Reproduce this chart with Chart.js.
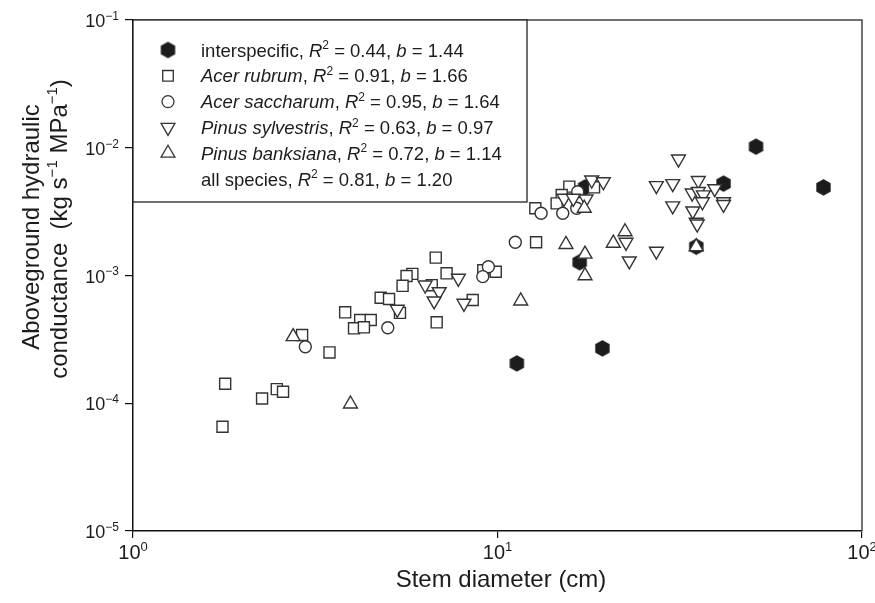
<!DOCTYPE html>
<html>
<head>
<meta charset="utf-8">
<script src="https://cdn.jsdelivr.net/npm/chart.js@4.4.0/dist/chart.umd.min.js"></script>
<style>
  html, body { margin: 0; padding: 0; background: #fff; }
  #wrap { width: 875px; height: 603px; }
</style>
</head>
<body>
<div id="wrap"><canvas id="chart" width="875" height="603"></canvas></div>
<script>
// stem diameter (cm) / aboveground hydraulic conductance (kg s-1 MPa-1)
const interD = [11.3, 19.4, 16.8, 17.4, 35.1, 41.7, 51.2, 78.4];
const interK = [2.05e-4, 2.69e-4, 1.27e-3, 4.90e-3, 1.68e-3, 5.24e-3, 1.02e-2, 4.90e-3];

const rubrumD = [6.77, 5.84, 5.63, 5.49, 7.25, 6.60, 4.78, 5.04, 5.40, 6.81, 3.82, 4.20, 4.49, 4.04, 4.30, 2.91,
  3.46, 1.79, 2.26, 2.48, 2.58, 1.76, 9.14, 9.89, 8.55, 12.76, 12.70, 15.74, 18.40, 15.0, 14.53];
const rubrumK = [1.38e-3, 1.03e-3, 9.9e-4, 8.3e-4, 1.04e-3, 8.4e-4, 6.7e-4, 6.55e-4, 5.1e-4, 4.3e-4, 5.15e-4, 4.48e-4,
  4.48e-4, 3.86e-4, 3.93e-4, 3.42e-4, 2.5e-4, 1.42e-4, 1.09e-4, 1.29e-4, 1.23e-4, 6.55e-5, 1.10e-3, 1.07e-3, 6.43e-4,
  1.82e-3, 3.36e-3, 4.96e-3, 4.90e-3, 4.27e-3, 3.67e-3];

const sacchD = [5.00, 2.97, 9.44, 9.11, 11.19, 13.17, 15.10, 16.60, 16.50];
const sacchK = [3.90e-4, 2.77e-4, 1.17e-3, 9.8e-4, 1.82e-3, 3.07e-3, 3.07e-3, 4.53e-3, 3.36e-3];

const sylvD = [6.33, 6.92, 6.70, 5.31, 7.81, 8.09, 18.13, 19.51, 15.22, 16.14, 17.49, 31.37, 27.28, 30.25, 35.55,
  39.44, 34.21, 35.55, 36.72, 36.49, 41.69, 41.69, 30.25, 34.34, 35.09, 35.31, 22.52, 27.28, 22.99];
const sylvK = [8.43e-4, 7.47e-4, 6.32e-4, 5.44e-4, 9.51e-4, 6.06e-4, 5.59e-3, 5.42e-3, 4.02e-3, 4.02e-3, 3.97e-3,
  8.16e-3, 5.05e-3, 5.24e-3, 5.54e-3, 4.78e-3, 4.42e-3, 4.55e-3, 4.28e-3, 3.78e-3, 3.78e-3, 3.60e-3, 3.51e-3,
  3.20e-3, 2.61e-3, 2.53e-3, 1.82e-3, 1.55e-3, 1.30e-3];

const banksD = [2.75, 3.95, 11.58, 15.41, 17.38, 17.38, 20.78, 22.38, 17.30, 35.09];
const banksK = [3.32e-4, 9.87e-5, 6.32e-4, 1.75e-3, 1.47e-3, 9.96e-4, 1.79e-3, 2.20e-3, 3.36e-3, 1.68e-3];

const xTicks = [1, 10, 100];
const xTickExp = ['0', '1', '2'];
const yTicks = [1e-5, 1e-4, 1e-3, 1e-2, 1e-1];
const yTickExp = ['\u22125', '\u22124', '\u22123', '\u22122', '\u22121'];

const legendNames = ['interspecific', 'Acer rubrum', 'Acer saccharum', 'Pinus sylvestris', 'Pinus banksiana', 'all species'];
const legendItalic = [false, true, true, true, true, false];
const legendR2 = ['0.44', '0.91', '0.95', '0.63', '0.72', '0.81'];
const legendB = ['1.44', '1.66', '1.64', '0.97', '1.14', '1.20'];

const FONT = '"Liberation Sans", Arial, sans-serif';
const INK = '#1c1c1c';

function pts(xs, ys) {
  return xs.map((x, i) => ({ x: x, y: ys[i] }));
}

// filled hexagon marker (pointy top)
function hexImage(r) {
  const c = document.createElement('canvas');
  c.width = c.height = Math.ceil(r * 2 + 2);
  const g = c.getContext('2d');
  g.fillStyle = INK;
  g.beginPath();
  for (let i = 0; i < 6; i++) {
    const a = Math.PI / 2 + i * Math.PI / 3;
    const px = c.width / 2 + r * Math.cos(a);
    const py = c.height / 2 + r * Math.sin(a);
    if (i === 0) g.moveTo(px, py); else g.lineTo(px, py);
  }
  g.closePath();
  g.fill();
  return c;
}
const hex = hexImage(8.3);

function drawRich(ctx, segs, x, y, size) {
  for (const s of segs) {
    const fs = s.sup ? Math.round(size * 0.64) : size;
    ctx.font = (s.it ? 'italic ' : '') + fs + 'px ' + FONT;
    ctx.fillText(s.t, x, s.sup ? y - size * 0.4 : y);
    x += ctx.measureText(s.t).width;
  }
  return x;
}
function richWidth(ctx, segs, size) {
  let w = 0;
  for (const s of segs) {
    const fs = s.sup ? Math.round(size * 0.64) : size;
    ctx.font = (s.it ? 'italic ' : '') + fs + 'px ' + FONT;
    w += ctx.measureText(s.t).width;
  }
  return w;
}

function legendMarker(ctx, kind, x, y) {
  ctx.save();
  ctx.lineWidth = 1.3;
  ctx.strokeStyle = '#333';
  ctx.fillStyle = '#fff';
  ctx.beginPath();
  if (kind === 0) {
    ctx.drawImage(hex, x - hex.width / 2, y - hex.height / 2);
    ctx.restore();
    return;
  } else if (kind === 1) {
    ctx.rect(x - 5.3, y - 5.3, 10.6, 10.6);
  } else if (kind === 2) {
    ctx.arc(x, y, 6, 0, Math.PI * 2);
  } else {
    const s = kind === 3 ? -1 : 1;
    const r = 8;
    ctx.moveTo(x, y - s * r);
    ctx.lineTo(x + r * 0.866, y + s * r * 0.5);
    ctx.lineTo(x - r * 0.866, y + s * r * 0.5);
    ctx.closePath();
  }
  ctx.fill();
  ctx.stroke();
  ctx.restore();
}

const textPlugin = {
  id: 'textPlugin',
  afterDraw(chart) {
    const ctx = chart.ctx;
    const area = chart.chartArea;
    const xs = chart.scales.x, ys = chart.scales.y;
    ctx.save();
    ctx.fillStyle = INK;
    ctx.textBaseline = 'alphabetic';
    ctx.textAlign = 'left';

    // top and right frame
    ctx.strokeStyle = '#444';
    ctx.lineWidth = 1.5;
    ctx.beginPath();
    ctx.moveTo(area.left, area.top);
    ctx.lineTo(area.right, area.top);
    ctx.lineTo(area.right, area.bottom);
    ctx.stroke();

    // x tick labels
    xTicks.forEach((v, i) => {
      const segs = [{ t: '10' }, { t: xTickExp[i], sup: true }];
      const w = richWidth(ctx, segs, 20);
      drawRich(ctx, segs, xs.getPixelForValue(v) - w / 2, area.bottom + 28, 20);
    });
    // y tick labels
    yTicks.forEach((v, i) => {
      const segs = [{ t: '10' }, { t: yTickExp[i], sup: true }];
      const w = richWidth(ctx, segs, 18);
      drawRich(ctx, segs, 119 - w, ys.getPixelForValue(v) + 7, 18);
    });

    // axis titles
    const xt = [{ t: 'Stem diameter (cm)' }];
    drawRich(ctx, xt, 501 - richWidth(ctx, xt, 24) / 2, 587, 24);

    ctx.save();
    ctx.rotate(-Math.PI / 2);
    const y1 = [{ t: 'Aboveground hydraulic' }];
    const y2 = [{ t: 'conductance  (kg s' }, { t: '\u22121', sup: true }, { t: ' MPa' }, { t: '\u22121', sup: true }, { t: ')' }];
    drawRich(ctx, y1, -227 - richWidth(ctx, y1, 24) / 2, 39, 24);
    drawRich(ctx, y2, -229 - richWidth(ctx, y2, 24) / 2, 67, 24);
    ctx.restore();

    // legend box
    ctx.fillStyle = '#fff';
    ctx.fillRect(area.left, area.top, 527 - area.left, 202 - area.top);
    ctx.strokeStyle = '#222';
    ctx.lineWidth = 1.3;
    ctx.strokeRect(area.left, area.top, 527 - area.left, 202 - area.top);
    ctx.fillStyle = INK;
    legendNames.forEach((name, i) => {
      const yc = 50 + i * 25.8;
      if (i < 5) legendMarker(ctx, i, 168, yc);
      const segs = [
        { t: name, it: legendItalic[i] }, { t: ', ' }, { t: 'R', it: true }, { t: '2', sup: true },
        { t: ' = ' + legendR2[i] + ', ' }, { t: 'b', it: true }, { t: ' = ' + legendB[i] }
      ];
      drawRich(ctx, segs, 201, yc + 6.5, 18.5);
    });
    ctx.restore();
  }
};

const common = { borderWidth: 1.4, borderColor: '#333', backgroundColor: '#fff', showLine: false };

new Chart(document.getElementById('chart').getContext('2d'), {
  type: 'scatter',
  data: {
    datasets: [
      Object.assign({ label: 'Pinus banksiana', data: pts(banksD, banksK), pointStyle: 'triangle', pointRadius: 8 }, common),
      Object.assign({ label: 'Pinus sylvestris', data: pts(sylvD, sylvK), pointStyle: 'triangle', pointRotation: 180, pointRadius: 8 }, common),
      Object.assign({ label: 'Acer saccharum', data: pts(sacchD, sacchK), pointStyle: 'circle', pointRadius: 6 }, common),
      Object.assign({ label: 'Acer rubrum', data: pts(rubrumD, rubrumK), pointStyle: 'rect', pointRadius: 7.8 }, common),
      { label: 'interspecific', data: pts(interD, interK), pointStyle: hex, pointRadius: 8, borderWidth: 0 }
    ]
  },
  options: {
    responsive: false,
    animation: false,
    events: [],
    layout: { padding: { left: 0, right: 13, top: 20, bottom: 0 } },
    plugins: { legend: { display: false }, tooltip: { enabled: false } },
    scales: {
      x: {
        type: 'logarithmic', min: 1, max: 100,
        afterBuildTicks: s => { s.ticks = xTicks.map(v => ({ value: v })); },
        afterFit: s => { s.height = 72; },
        ticks: { display: false },
        grid: { drawOnChartArea: false, drawTicks: true, tickLength: 7, color: '#111', lineWidth: 1.2 },
        border: { display: true, color: '#111', width: 1.5 }
      },
      y: {
        type: 'logarithmic', min: 1e-5, max: 1e-1,
        afterBuildTicks: s => { s.ticks = yTicks.map(v => ({ value: v })); },
        afterFit: s => { s.width = 133; },
        ticks: { display: false },
        grid: { drawOnChartArea: false, drawTicks: true, tickLength: 8, color: '#111', lineWidth: 1.2 },
        border: { display: true, color: '#111', width: 1.5 }
      }
    }
  },
  plugins: [textPlugin]
});
</script>
</body>
</html>
